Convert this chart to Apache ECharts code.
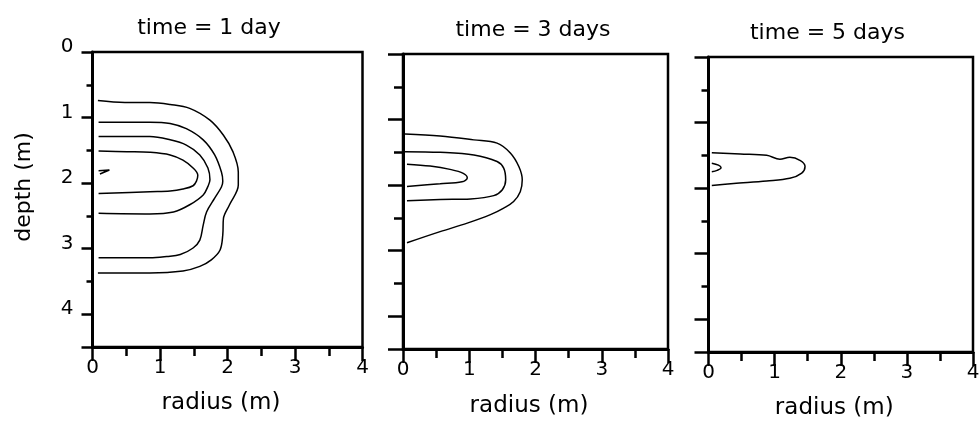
<!DOCTYPE html>
<html><head><meta charset="utf-8">
<script src="https://cdn.jsdelivr.net/npm/echarts@6/dist/echarts.min.js"></script>
<style>html,body{margin:0;padding:0;background:#fff}#c{width:980px;height:422px}</style>
</head><body><div id="c"></div>
<script>
// ---- text ----
const panelTitles = ['time = 1 day', 'time = 3 days', 'time = 5 days'];
const xName = 'radius (m)';
const yName = 'depth (m)';
const xTickLabels = [0, 1, 2, 3, 4];
const yTickLabels = [0, 1, 2, 3, 4];

// ---- contour lines: [radius (m), depth (m)] ----
const day1_c1 = [[0.08,0.74],[0.48,0.77],[0.85,0.77],[1.15,0.80],[1.44,0.86],[1.74,1.04],[1.94,1.27],[2.08,1.52],[2.16,1.83],[2.16,2.03],[2.03,2.33],[1.94,2.54],[1.93,2.79],[1.89,3.02],[1.76,3.17],[1.59,3.27],[1.34,3.34],[0.85,3.37],[0.08,3.37]];
const day1_c2 = [[0.09,1.07],[0.85,1.07],[1.15,1.09],[1.39,1.17],[1.64,1.34],[1.81,1.57],[1.91,1.83],[1.93,1.97],[1.91,2.06],[1.81,2.23],[1.69,2.44],[1.64,2.64],[1.59,2.87],[1.49,2.99],[1.30,3.09],[1.10,3.12],[0.85,3.14],[0.09,3.14]];
const day1_c3 = [[0.09,1.29],[0.85,1.29],[1.15,1.34],[1.39,1.42],[1.59,1.57],[1.71,1.77],[1.74,1.95],[1.71,2.05],[1.64,2.18],[1.44,2.33],[1.20,2.44],[0.85,2.47],[0.09,2.46]];
const day1_c4 = [[0.09,1.51],[0.51,1.52],[0.85,1.53],[1.15,1.57],[1.34,1.65],[1.49,1.77],[1.56,1.88],[1.54,1.97],[1.49,2.04],[1.34,2.09],[1.15,2.12],[0.85,2.13],[0.09,2.16]];
const day1_c5 = [[0.09,1.81],[0.25,1.80],[0.11,1.86]];

const day3_c1 = [[0.03,1.22],[0.56,1.25],[1.07,1.31],[1.42,1.36],[1.62,1.51],[1.75,1.72],[1.80,1.92],[1.77,2.10],[1.67,2.25],[1.52,2.35],[1.32,2.45],[0.97,2.58],[0.56,2.71],[0.06,2.88]];
const day3_c2 = [[0.03,1.49],[0.56,1.50],[1.07,1.54],[1.42,1.64],[1.52,1.74],[1.55,1.92],[1.50,2.07],[1.37,2.16],[1.02,2.21],[0.56,2.22],[0.06,2.24]];
const day3_c3 = [[0.06,1.68],[0.41,1.71],[0.71,1.76],[0.91,1.82],[0.97,1.89],[0.89,1.95],[0.56,1.98],[0.06,2.02]];

const day5_c1 = [[0.05,1.46],[0.48,1.48],[0.88,1.50],[1.08,1.56],[1.23,1.53],[1.39,1.58],[1.46,1.67],[1.41,1.77],[1.23,1.85],[0.88,1.89],[0.38,1.93],[0.05,1.96]];
const day5_c2 = [[0.05,1.62],[0.15,1.65],[0.19,1.69],[0.13,1.73],[0.05,1.75]];

const panelContours = [
  [day1_c1, day1_c2, day1_c3, day1_c4, day1_c5],
  [day3_c1, day3_c2, day3_c3],
  [day5_c1, day5_c2]
];

// ---- layout (pixels) ----
const FONT = "'DejaVu Sans', sans-serif";
const layout = [
  {left: 92.5, top: 52, width: 270, height: 295, major: 11, minor: 6, titleX: 209, titleY: 17, nameGap: 45},
  {left: 403, top: 54, width: 265, height: 295, major: 15, minor: 9, titleX: 533, titleY: 19, nameGap: 46},
  {left: 708.5, top: 57, width: 264.5, height: 295, major: 14, minor: 7, titleX: 827.5, titleY: 22, nameGap: 45}
];

const grid = [], xAxis = [], yAxis = [], series = [], title = [];
layout.forEach((p, i) => {
  grid.push({left: p.left, top: p.top, width: p.width, height: p.height, show: true,
    borderColor: '#000', borderWidth: 2.5, backgroundColor: 'transparent',
    containLabel: false, outerBoundsMode: 'none'});
  title.push({text: panelTitles[i], left: p.titleX, top: p.titleY, textAlign: 'center', padding: 0,
    textStyle: {fontFamily: FONT, fontSize: 22, fontWeight: 'normal', color: '#000'}});
  xAxis.push({gridIndex: i, type: 'value', min: 0, max: 4, interval: 1,
    axisLine: {show: true, onZero: false, lineStyle: {color: '#000', width: 3}},
    axisTick: {show: true, length: 14, lineStyle: {color: '#000', width: 2.5}},
    minorTick: {show: true, splitNumber: 2, length: 9, lineStyle: {color: '#000', width: 2.5}},
    splitLine: {show: false}, minorSplitLine: {show: false},
    axisLabel: {show: true, margin: 11, fontFamily: FONT, fontSize: 20, color: '#000',
      formatter: v => xTickLabels.indexOf(v) >= 0 ? String(v) : ''},
    name: xName, nameLocation: 'middle', nameGap: p.nameGap,
    nameTextStyle: {fontFamily: FONT, fontSize: 23, color: '#000', padding: [0, 13, 0, 0]}});
  yAxis.push({gridIndex: i, type: 'value', inverse: true, min: 0, max: 4.5, interval: 1, position: 'left',
    axisLine: {show: true, onZero: false, lineStyle: {color: '#000', width: 3}},
    axisTick: {show: true, length: p.major, lineStyle: {color: '#000', width: 2.5}},
    splitLine: {show: false},
    axisLabel: {show: i === 0, margin: 19, fontFamily: FONT, fontSize: 20, color: '#000',
      verticalAlign: 'bottom', lineHeight: 10,
      formatter: v => yTickLabels.indexOf(v) >= 0 ? String(v) : ''},
    name: i === 0 ? yName : '', nameLocation: 'middle', nameGap: 57,
    nameTextStyle: {fontFamily: FONT, fontSize: 22, color: '#000', padding: [0, 0, 0, 25]}});
  yAxis.push({gridIndex: i, type: 'value', inverse: true, min: 0, max: 4.5, interval: 0.5, position: 'left',
    axisLine: {show: false, onZero: false},
    axisTick: {show: true, length: p.minor, lineStyle: {color: '#000', width: 2.5}},
    splitLine: {show: false}, axisLabel: {show: false}});
  panelContours[i].forEach(c => {
    series.push({type: 'line', xAxisIndex: i, yAxisIndex: 2 * i, data: c, showSymbol: false,
      smooth: 0.35, silent: true, lineStyle: {color: '#000', width: 1.5}});
  });
});

const chart = echarts.init(document.getElementById('c'), null, {renderer: 'canvas'});
chart.setOption({animation: false, backgroundColor: '#fff', title, grid, xAxis, yAxis, series});
</script></body></html>
